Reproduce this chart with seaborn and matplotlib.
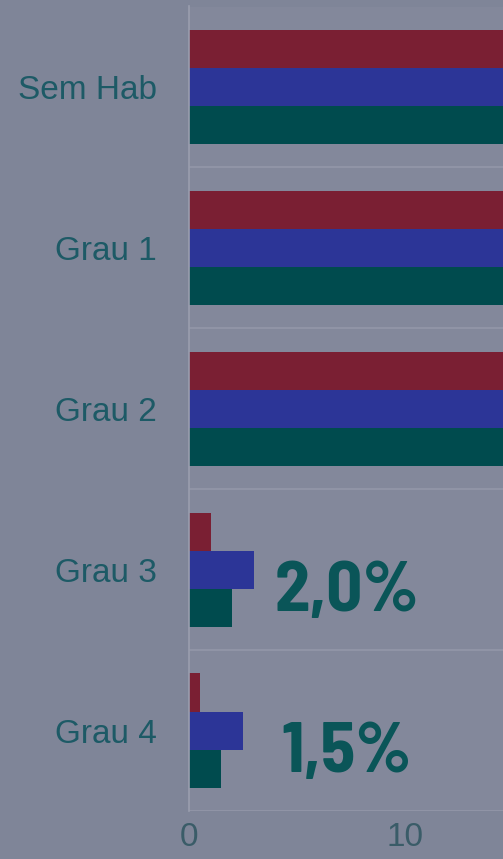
import matplotlib
matplotlib.use("Agg")
import matplotlib.pyplot as plt
from matplotlib import font_manager as fm
import seaborn as sns
import pandas as pd

# dados do gráfico
categorias = ["Sem Hab", "Grau 1", "Grau 2", "Grau 3", "Grau 4"]
series = ["A", "B", "C"]
valores_a = [30.0, 28.0, 26.0, 1.0, 0.5]
valores_b = [32.0, 30.0, 28.0, 3.0, 2.5]
valores_c = [31.0, 29.0, 27.0, 2.0, 1.5]
rotulos = {"Grau 3": "2,0%", "Grau 4": "1,5%"}
cores = ["#7a1f33", "#2c3597", "#004b4e"]

df = pd.DataFrame({
    "cat": categorias * 3,
    "serie": [s for s in series for _ in categorias],
    "valor": valores_a + valores_b + valores_c,
})

sns.set_style("white")
plt.rcParams["font.family"] = ["Liberation Sans", "DejaVu Sans"]

# fonte condensada para os rótulos grandes
fonte_grande = None
for preferida in ["barlowsemicondensed-bold.ttf", "asapcondensed-bold.ttf"]:
    for f in fm.fontManager.ttflist:
        if f.fname.lower().endswith(preferida):
            fonte_grande = fm.FontProperties(fname=f.fname)
            break
    if fonte_grande is not None:
        break

fundo = "#7f8598"
fig = plt.figure(figsize=(5.03, 8.59), dpi=100, facecolor=fundo)
ax = fig.add_axes([189 / 503, 48 / 859, 1 - 189 / 503, (811 - 6.5) / 859])
ax.set_facecolor("#83889b")

sns.barplot(data=df, y="cat", x="valor", hue="serie", order=categorias,
            hue_order=series, palette=cores, width=0.71, orient="h",
            saturation=1, linewidth=0, legend=False, ax=ax)

ax.set_xlim(0, (503 - 189) / 21.6)
ax.set_ylim(4.5, -0.5)
ax.set_xticks([0, 10])
ax.set_xlabel("")
ax.set_ylabel("")

# linhas de separação entre categorias
for y in [-0.5, 0.5, 1.5, 2.5, 3.5, 4.5]:
    ax.axhline(y, color="#9094a6", lw=1.5, zorder=0)

for s in ["top", "right", "bottom"]:
    ax.spines[s].set_visible(False)
ax.spines["left"].set_color("#9a9eae")
ax.spines["left"].set_linewidth(1.2)

ax.tick_params(axis="y", length=0, pad=23, labelsize=24, labelcolor="#1d5a66")
ax.tick_params(axis="x", length=0, pad=8, labelsize=24, labelcolor="#3a5c68")

for cat, txt in rotulos.items():
    i = categorias.index(cat)
    if fonte_grande is not None:
        ax.text(7.3, i + 0.26, txt, ha="center", va="baseline", fontsize=51,
                color="#0a5558", fontproperties=fonte_grande)
    else:
        ax.text(7.3, i + 0.26, txt, ha="center", va="baseline", fontsize=51,
                fontweight="bold", color="#0a5558")

fig.savefig("out.png", dpi=100, facecolor=fundo)
